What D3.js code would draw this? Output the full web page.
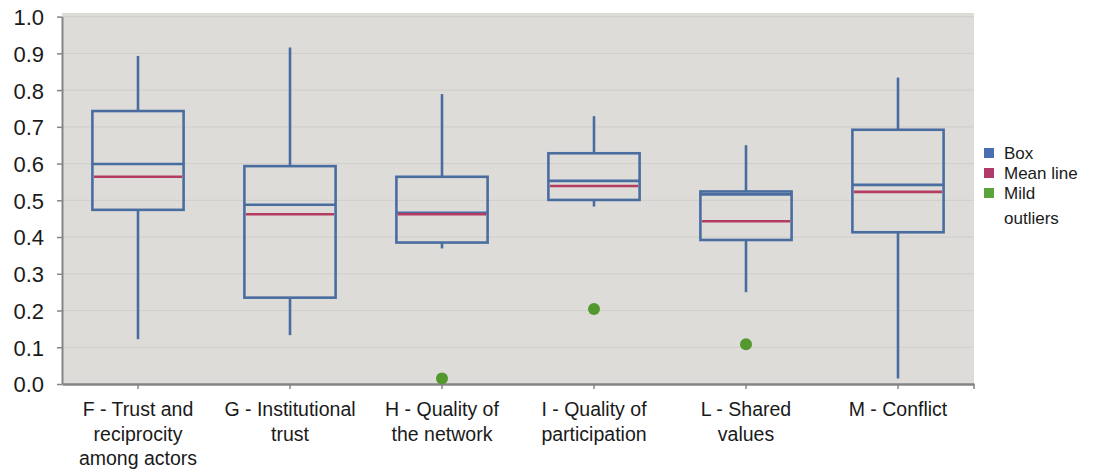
<!DOCTYPE html>
<html>
<head>
<meta charset="utf-8">
<script src="https://cdn.jsdelivr.net/npm/d3@7"></script>
<style>
  html, body { margin: 0; padding: 0; background: #ffffff; }
  svg { display: block; font-family: "Liberation Sans", Arial, Helvetica, sans-serif; }
</style>
</head>
<body>
<svg id="chart" width="1095" height="470"></svg>
<script>
// Categories, each split into the lines shown under the axis
const categories = ["F", "G", "H", "I", "L", "M"];
const categoryLines = [
  ["F - Trust and", "reciprocity", "among actors"],
  ["G - Institutional", "trust"],
  ["H - Quality of", "the network"],
  ["I - Quality of", "participation"],
  ["L - Shared", "values"],
  ["M - Conflict"]
];

// Box-plot statistics per category
const whiskerLow  = [0.122, 0.133, 0.369, 0.483, 0.250, 0.015];
const quartile1   = [0.474, 0.235, 0.385, 0.501, 0.392, 0.413];
const median      = [0.599, 0.488, 0.466, 0.553, 0.516, 0.542];
const quartile3   = [0.743, 0.593, 0.564, 0.628, 0.524, 0.692];
const whiskerHigh = [0.893, 0.916, 0.789, 0.729, 0.650, 0.834];
const meanValue   = [0.564, 0.462, 0.462, 0.539, 0.443, 0.523];

// Mild outliers: [category, value]
const outlierCategory = ["H", "I", "L"];
const outlierValue    = [0.015, 0.204, 0.108];

const yTicks = [0, 0.1, 0.2, 0.3, 0.4, 0.5, 0.6, 0.7, 0.8, 0.9, 1.0];
const legendLabels = [["Box"], ["Mean line"], ["Mild", "outliers"]];

const boxColor = "#4a6da0";
const meanColor = "#b43b62";
const outlierColor = "#52982f";
const legendColors = ["#4a6fb0", "#b13a6a", "#5aa33a"];

const svg = d3.select("#chart");
const plotLeft = 62, plotRight = 974, plotTop = 13, plotBottom = 384;

const x = d3.scaleBand().domain(categories).range([plotLeft, plotRight]).paddingInner(0).paddingOuter(0);
const y = d3.scaleLinear().domain([0, 1]).range([plotBottom, 16.6]);

// plot background
svg.append("rect")
  .attr("x", plotLeft).attr("y", plotTop)
  .attr("width", plotRight - plotLeft).attr("height", plotBottom - plotTop)
  .attr("fill", "#dedcd9");

// horizontal gridlines
svg.append("g")
  .selectAll("line")
  .data(yTicks.filter(t => t > 0))
  .join("line")
  .attr("x1", plotLeft).attr("x2", plotRight)
  .attr("y1", d => y(d)).attr("y2", d => y(d))
  .attr("stroke", "#d2d0cd").attr("stroke-width", 1.2);

// y axis
const yAxis = svg.append("g")
  .attr("transform", `translate(${plotLeft},0)`)
  .call(d3.axisLeft(y).tickValues(yTicks).tickFormat(d3.format(".1f")).tickSize(5).tickSizeOuter(0));
yAxis.select(".domain").attr("stroke", "#858585").attr("stroke-width", 2);
yAxis.selectAll(".tick line").attr("stroke", "#858585").attr("stroke-width", 1.5);
yAxis.selectAll(".tick text")
  .attr("x", -18).attr("dy", "0.36em")
  .attr("font-size", 22).attr("fill", "#1a1a1a")
  .style("font-family", "'Liberation Sans', Arial, sans-serif");

// x axis
const xAxis = svg.append("g")
  .attr("transform", `translate(0,${plotBottom})`)
  .call(d3.axisBottom(x).tickSize(5).tickSizeOuter(0).tickFormat(""));
xAxis.select(".domain").attr("stroke", "#858585").attr("stroke-width", 2.5);
xAxis.selectAll(".tick line").attr("stroke", "#858585").attr("stroke-width", 1.5);
xAxis.append("line")
  .attr("x1", plotRight).attr("x2", plotRight).attr("y1", 0).attr("y2", 5)
  .attr("stroke", "#858585").attr("stroke-width", 1.5);

// category labels
const labelG = svg.append("g");
categories.forEach((c, i) => {
  const t = labelG.append("text")
    .attr("x", x(c) + x.bandwidth() / 2)
    .attr("y", 416)
    .attr("text-anchor", "middle")
    .attr("font-size", 19.5)
    .attr("fill", "#1a1a1a");
  categoryLines[i].forEach((line, j) => {
    t.append("tspan")
      .attr("x", x(c) + x.bandwidth() / 2)
      .attr("dy", j === 0 ? 0 : 24.5)
      .text(line);
  });
});

// boxes
const boxW = x.bandwidth() * 0.6;
const boxes = svg.append("g");
const rows = categories.map((c, i) => ({
  c, lo: whiskerLow[i], q1: quartile1[i], med: median[i], q3: quartile3[i], hi: whiskerHigh[i], mean: meanValue[i]
}));
const cx = d => x(d.c) + x.bandwidth() / 2;

boxes.selectAll("line.whisker-hi").data(rows).join("line")
  .attr("class", "whisker-hi")
  .attr("x1", cx).attr("x2", cx)
  .attr("y1", d => y(d.q3)).attr("y2", d => y(d.hi))
  .attr("stroke", boxColor).attr("stroke-width", 2.6);
boxes.selectAll("line.whisker-lo").data(rows).join("line")
  .attr("class", "whisker-lo")
  .attr("x1", cx).attr("x2", cx)
  .attr("y1", d => y(d.q1)).attr("y2", d => y(d.lo))
  .attr("stroke", boxColor).attr("stroke-width", 2.6);
boxes.selectAll("rect").data(rows).join("rect")
  .attr("x", d => cx(d) - boxW / 2)
  .attr("y", d => y(d.q3))
  .attr("width", boxW)
  .attr("height", d => y(d.q1) - y(d.q3))
  .attr("fill", "none")
  .attr("stroke", boxColor).attr("stroke-width", 2.6);
boxes.selectAll("line.median").data(rows).join("line")
  .attr("class", "median")
  .attr("x1", d => cx(d) - boxW / 2).attr("x2", d => cx(d) + boxW / 2)
  .attr("y1", d => y(d.med)).attr("y2", d => y(d.med))
  .attr("stroke", boxColor).attr("stroke-width", 2.6);
boxes.selectAll("line.mean").data(rows).join("line")
  .attr("class", "mean")
  .attr("x1", d => cx(d) - boxW / 2 + 1.5).attr("x2", d => cx(d) + boxW / 2 - 1.5)
  .attr("y1", d => y(d.mean)).attr("y2", d => y(d.mean))
  .attr("stroke", meanColor).attr("stroke-width", 2.6);

// mild outliers
svg.append("g").selectAll("circle")
  .data(outlierCategory.map((c, i) => ({ c, v: outlierValue[i] })))
  .join("circle")
  .attr("cx", d => x(d.c) + x.bandwidth() / 2)
  .attr("cy", d => y(d.v))
  .attr("r", 6)
  .attr("fill", outlierColor);

// legend
const legend = svg.append("g").attr("transform", "translate(984,0)");
const legendRowY = [153, 173, 193];
legendLabels.forEach((lines, i) => {
  legend.append("rect")
    .attr("x", 0).attr("y", legendRowY[i] - 5)
    .attr("width", 10).attr("height", 10)
    .attr("fill", legendColors[i]);
  const t = legend.append("text")
    .attr("x", 20).attr("y", legendRowY[i])
    .attr("font-size", 17).attr("fill", "#1a1a1a");
  lines.forEach((l, j) => {
    t.append("tspan").attr("x", 20).attr("dy", j === 0 ? "0.35em" : 25).text(l);
  });
});
</script>
</body>
</html>
